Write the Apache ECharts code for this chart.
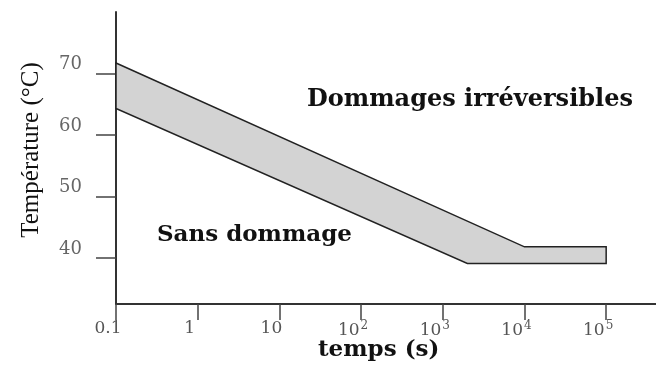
<!DOCTYPE html>
<html>
<head>
<meta charset="utf-8">
<script src="https://cdn.jsdelivr.net/npm/echarts@6/dist/echarts.min.js"></script>
<style>html,body{margin:0;padding:0;background:#fff}#c{width:656px;height:367px}</style>
</head>
<body>
<div id="c"></div>
<script>
// time values (s) and temperatures (°C)
var upperTimes = [0.1, 10000, 100000];
var upperTemps = [71.7, 41.8, 41.8];
var lowerTimes = [0.1, 2000, 100000];
var lowerTemps = [64.3, 39.1, 39.1];
var xTickTimes = [0.1, 1, 10, 100, 1000, 10000, 100000];
var yTickValues = [40, 50, 60, 70];
var regionLabels = ['Dommages irréversibles', 'Sans dommage'];

var exp = function (t) { return Math.log10(t); };
// polygon: upper boundary left->right, then lower boundary right->left
var poly = [];
for (var i = 0; i < upperTimes.length; i++) poly.push([exp(upperTimes[i]), upperTemps[i]]);
for (var j = lowerTimes.length - 1; j >= 0; j--) poly.push([exp(lowerTimes[j]), lowerTemps[j]]);

var chart = echarts.init(document.getElementById('c'));
var serif = 'DejaVu Serif';
chart.setOption({
  animation: false,
  grid: { left: 116, top: 12, right: 0, bottom: 63 },
  xAxis: {
    type: 'value', min: -1, max: 5.61,
    axisLine: { onZero: false, lineStyle: { color: '#333', width: 2 } },
    axisTick: { show: true, length: 16, lineStyle: { color: '#444', width: 1.5 }, customValues: xTickTimes.map(exp) },
    splitLine: { show: false },
    axisLabel: {
      customValues: xTickTimes.map(exp), margin: 16, color: '#555', fontFamily: serif, fontSize: 17,
      padding: [0, 16, 0, 0],
      formatter: function (v) {
        var e = Math.round(v);
        if (e === -1) return '0.1';
        if (e === 0) return '1';
        if (e === 1) return '10';
        return '10{sup|' + e + '}';
      },
      rich: { sup: { fontSize: 12, color: '#555', fontFamily: serif, padding: [0, 0, 9, 1] } }
    }
  },
  yAxis: {
    type: 'value', min: 32.5, max: 80,
    axisLine: { show: true, onZero: false, lineStyle: { color: '#333', width: 2 } },
    axisTick: { show: true, length: 20, lineStyle: { color: '#444', width: 1.5 }, customValues: yTickValues },
    splitLine: { show: false },
    axisLabel: { customValues: yTickValues, margin: 34, color: '#666', fontFamily: serif, fontSize: 18, verticalAlign: 'bottom', lineHeight: 18 }
  },
  graphic: [
    { type: 'text', left: 307, top: 88, style: { text: regionLabels[0], font: 'bold 24px "DejaVu Serif"', fill: '#111' } },
    { type: 'text', left: 157, top: 224, style: { text: regionLabels[1], font: 'bold 23px "DejaVu Serif"', fill: '#111' } },
    { type: 'text', left: 318, top: 339, style: { text: 'temps (s)', font: 'bold 23px "DejaVu Serif"', fill: '#111' } },
    { type: 'text', x: 31, y: 150, rotation: Math.PI / 2, style: { text: 'Température (°C)', font: '25px "Liberation Serif"', fill: '#111', align: 'center', verticalAlign: 'middle' } }
  ],
  series: [{
    type: 'custom',
    data: [0],
    renderItem: function (params, api) {
      var pts = poly.map(function (p) { return api.coord(p); });
      return {
        type: 'polygon',
        shape: { points: pts },
        style: { fill: '#d3d3d3', stroke: '#222', lineWidth: 1.5 }
      };
    }
  }]
});
</script>
</body>
</html>
